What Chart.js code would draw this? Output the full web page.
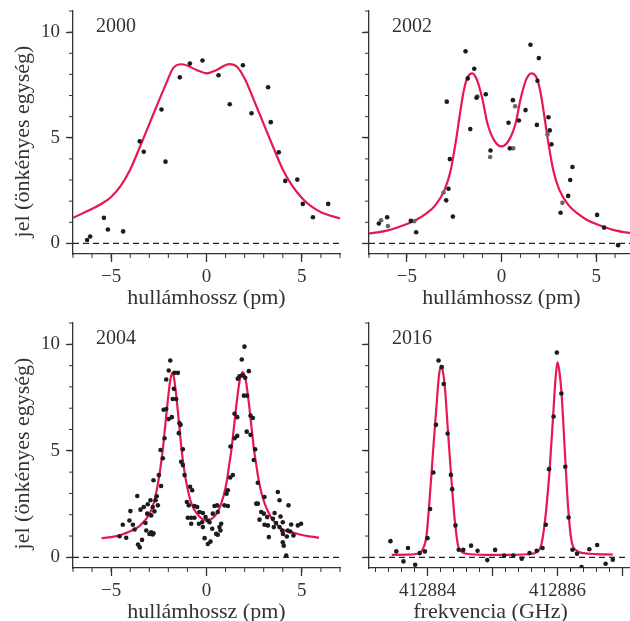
<!DOCTYPE html>
<html>
<head>
<meta charset="utf-8">
<script src="https://cdn.jsdelivr.net/npm/chart.js@4.4.1/dist/chart.umd.min.js"></script>
<style>
  html, body { margin: 0; padding: 0; width: 630px; height: 621px; overflow: hidden; background: #fff; }
  body { position: relative; }
  canvas { position: absolute; }
</style>
</head>
<body>
<canvas id="c2000"></canvas>
<canvas id="c2002"></canvas>
<canvas id="c2004"></canvas>
<canvas id="c2016"></canvas>
<script>
// ---- data ----
const x2000 = [-6.26, -6.10, -5.38, -5.17, -4.37, -3.50, -3.29, -2.36, -2.15, -1.40, -0.87, -0.21, 0.63, 1.22, 1.91, 2.36, 3.23, 3.37, 3.79, 4.13, 4.76, 5.05, 5.58, 6.38];
const y2000 = [0.16, 0.33, 1.21, 0.66, 0.57, 4.83, 4.34, 6.34, 3.87, 7.86, 8.51, 8.66, 7.96, 6.59, 8.43, 6.16, 7.39, 5.74, 4.31, 2.96, 3.02, 1.87, 1.24, 1.87];
const fitX2000 = [-7, -6, -5.5, -5, -4.5, -4, -3.5, -3, -2.5, -2.1, -1.75, -1.3, -0.5, 0, 0.5, 1.2, 1.6, 2, 2.5, 3, 3.5, 4, 4.5, 5, 5.5, 6, 7];
const fitY2000 = [1.21, 1.64, 1.88, 2.2, 2.72, 3.5, 4.55, 5.65, 6.75, 7.6, 8.3, 8.48, 8.2, 8.05, 8.2, 8.49, 8.36, 7.8, 6.75, 5.65, 4.55, 3.5, 2.72, 2.15, 1.75, 1.48, 1.18];

const x2002 = [-6.48, -6.04, -4.79, -4.51, -2.89, -2.80, -2.92, -2.73, -2.57, -1.90, -1.78, -1.65, -1.44, -1.32, -0.83, -0.58, 0.37, 0.44, 0.60, 0.92, 1.27, 1.53, 1.87, 1.90, 1.97, 2.48, 2.55, 2.64, 3.12, 3.52, 3.63, 3.75, 5.05, 5.42, 6.16];
const y2002 = [0.94, 1.24, 1.07, 0.53, 6.71, 2.59, 2.04, 3.99, 1.27, 9.09, 7.81, 5.41, 8.27, 6.90, 7.06, 4.40, 5.71, 4.50, 6.78, 5.82, 6.31, 9.40, 5.61, 7.70, 8.77, 5.97, 5.35, 4.69, 1.45, 2.25, 3.00, 3.62, 1.35, 0.75, -0.08];
// lighter (grey) dots in the 2002 panel
const x2002b = [-6.36, -6.00, -4.61, -3.06, -1.27, -0.60, 0.62, 0.72, 2.43, 3.22];
const y2002b = [1.10, 0.82, 1.05, 2.41, 6.95, 4.09, 4.50, 6.49, 5.16, 1.92];
const fitX2002 = [-7, -6, -5, -4.5, -4, -3.5, -3, -2.7, -2.4, -2.2, -2.0, -1.8, -1.55, -1.3, -1.0, -0.75, -0.4, 0, 0.4, 0.75, 1.0, 1.3, 1.58, 1.85, 2.05, 2.25, 2.45, 2.75, 3.05, 3.55, 4.05, 4.5, 5, 6, 7];
const fitY2002 = [0.46, 0.62, 0.92, 1.12, 1.4, 1.8, 2.55, 3.4, 4.9, 6.1, 7.2, 7.85, 8.05, 7.75, 6.8, 5.7, 4.9, 4.59, 4.9, 5.7, 6.8, 7.75, 8.05, 7.85, 7.2, 6.1, 4.9, 3.4, 2.55, 1.8, 1.4, 1.12, 0.92, 0.62, 0.46];

const x2004 = [
  -4.56, -4.21, -4.39, -4.04, -3.86, -3.77, -3.63, -3.59, -3.50, -3.38, -3.99, -3.46, -3.29, -3.08, -2.94, -3.20, -3.16, -2.99, -2.82, -3.11, -2.90, -2.78, -2.82,
  -1.90, -1.98, -1.68, -1.50, -2.11, -1.71, -1.77, -1.59, -2.25, -2.11, -1.98, -1.82, -1.42, -1.36, -1.45, -2.20, -2.41, -2.29, -1.24, -1.33, -1.24, -1.15, -2.50, -2.38, -2.61, -2.67, -2.55, -2.73, -2.90, -2.78,
  -0.86, -0.75, -1.03, -0.93, -0.63, -0.49, -0.37, -0.19, 0.42, -0.98, -0.80, -0.63, -0.80, -0.40, -0.23, -0.05, 0.07, -0.19, 0.16, 0.33, 0.30, 0.51, -0.10, 0.07, 0.21,
  1.99, 1.85, 2.22, 1.64, 1.73, 1.90, 2.03, 1.96, 2.13, 1.47, 1.61, 2.31, 2.43, 1.61, 1.47, 2.11, 2.31, 1.26, 2.55, 2.48, 1.38, 1.24, 1.12, 1.05, 2.69, 0.94, 1.12, 0.56, 0.59, 0.77, 0.68, 0.73, 0.59,
  2.61, 2.69, 3.04, 3.74, 2.87, 3.01, 3.18, 3.57, 3.83, 3.48, 2.78, 3.04, 3.22, 3.27, 3.65, 3.53, 3.83, 4.00, 4.00, 4.05,
  4.30, 3.88, 4.44, 4.79, 4.96, 4.26, 4.39, 4.21, 4.56, 3.97, 4.01, 4.18
];
const y2004 = [
  0.99, 0.92, 1.53, 1.73, 1.53, 1.31, 2.88, 0.60, 0.47, 0.82, 2.17, 2.24, 2.36, 2.49, 2.68, 1.61, 1.26, 1.10, 1.07, 2.05, 1.97, 3.62, 2.36,
  9.24, 8.77, 8.66, 8.66, 8.35, 7.91, 7.43, 7.43, 6.93, 6.96, 6.49, 6.58, 6.30, 6.22, 5.83, 5.59, 5.04, 4.65, 5.07, 4.49, 4.33, 3.86, 3.86, 3.35, 2.87, 2.68, 2.44, 2.16, 1.18, 1.13,
  3.31, 3.15, 2.60, 2.44, 2.41, 2.36, 2.13, 2.08, 2.41, 1.86, 1.86, 1.86, 1.58, 1.58, 1.65, 1.89, 1.73, 1.42, 1.65, 2.05, 1.34, 1.10, 0.90, 0.63, 0.74,
  9.89, 9.29, 8.74, 8.38, 8.50, 8.54, 8.43, 7.59, 7.59, 6.74, 6.58, 6.65, 6.54, 5.70, 5.59, 5.90, 5.75, 5.20, 5.07, 4.57, 3.86, 3.75, 3.15, 2.99, 3.50, 2.44, 2.41, 2.44, 2.13, 1.58, 1.42, 1.26, 1.06,
  2.52, 2.52, 2.83, 3.07, 2.13, 2.05, 1.89, 2.08, 2.68, 1.81, 1.77, 1.53, 1.50, 0.95, 1.61, 1.42, 1.42, 1.65, 0.71, 0.55,
  2.44, 1.92, 1.54, 1.50, 1.58, 1.26, 1.21, 0.98, 1.03, 1.26, 1.10, 0.08
];
const fitX2004 = [-5.5, -5.0, -4.5, -4.0, -3.5, -3.0, -2.75, -2.5, -2.3, -2.15, -2.0, -1.9, -1.8, -1.7, -1.6, -1.45, -1.3, -1.15, -1.0, -0.8, -0.5, -0.25, 0, 0.25, 0.45, 0.7, 0.9, 1.05, 1.2, 1.3, 1.45, 1.6, 1.75, 1.9, 2.05, 2.2, 2.35, 2.5, 2.6, 2.75, 2.95, 3.2, 3.5, 3.8, 4.0, 4.5, 5.0, 5.5, 5.9];
const fitY2004 = [0.90, 0.95, 1.05, 1.22, 1.48, 2.02, 2.6, 3.7, 5.0, 6.3, 7.6, 8.3, 8.66, 8.4, 7.7, 6.4, 5.0, 4.0, 3.25, 2.55, 2.05, 1.82, 1.73, 1.8, 1.95, 2.35, 2.9, 3.5, 4.4, 5.0, 6.2, 7.4, 8.35, 8.69, 8.35, 7.4, 6.2, 5.0, 4.4, 3.55, 2.8, 2.2, 1.72, 1.45, 1.3, 1.17, 1.05, 0.97, 0.92];

const x2016 = [412883.43, 412883.52, 412883.63, 412883.70, 412883.81, 412883.88, 412883.96, 412884.00, 412884.04, 412884.09, 412884.13, 412884.17, 412884.22, 412884.25, 412884.31, 412884.36, 412884.38, 412884.43, 412884.48, 412884.55, 412884.67, 412884.77, 412884.92, 412885.04, 412885.18, 412885.32, 412885.45, 412885.57, 412885.68, 412885.77, 412885.82, 412885.87, 412885.94, 412885.99, 412886.06, 412886.12, 412886.17, 412886.23, 412886.30, 412886.37, 412886.49, 412886.61, 412886.74, 412886.85];
const y2016 = [0.76, 0.28, -0.19, 0.44, -0.35, 0.20, 0.28, 0.90, 2.27, 3.98, 6.22, 9.24, 8.93, 8.14, 5.81, 3.87, 3.20, 1.50, 0.36, 0.35, 0.55, 0.31, -0.13, 0.35, 0.08, 0.09, -0.06, 0.20, 0.31, 0.44, 1.53, 4.14, 6.61, 9.61, 7.69, 4.25, 1.87, 0.36, 0.17, -0.46, 0.38, 0.58, -0.30, -0.11];
const fitX2016 = [412883.45, 412883.7, 412883.85, 412883.93, 412883.985, 412884.035, 412884.087, 412884.138, 412884.175, 412884.205, 412884.235, 412884.266, 412884.317, 412884.369, 412884.42, 412884.47, 412884.52, 412884.6, 412884.9, 412885.3, 412885.6, 412885.68, 412885.754, 412885.82, 412885.882, 412885.932, 412885.97, 412886.0, 412886.03, 412886.062, 412886.112, 412886.163, 412886.215, 412886.29, 412886.4, 412886.6, 412886.85];
const fitY2016 = [0.12, 0.13, 0.17, 0.40, 1.03, 2.83, 5.04, 7.09, 8.5, 9.0, 8.75, 8.03, 5.83, 3.62, 1.73, 0.55, 0.27, 0.17, 0.12, 0.12, 0.17, 0.24, 0.63, 2.05, 4.25, 6.61, 8.4, 9.16, 8.7, 7.72, 5.04, 2.36, 0.79, 0.32, 0.2, 0.15, 0.13];

// tick positions
const yTicks = [0, 5, 10];
const wlTicks = [-5, 0, 5];
const freqTicks = [412884, 412885, 412886, 412887];
const freqLabels = ['412884', '', '412886', ''];
const yTitle = 'jel (önkényes egység)';

// ---- styling ----
const INK = '#333';
const DOT = '#1c1c1c';
const FIT = '#e8184e';
const SERIF = "'Liberation Serif', 'Times New Roman', serif";

function pts(xs, ys) {
    return xs.map((x, i) => ({ x: x, y: ys[i] }));
}

function minus(v) {
    return v < 0 ? '\u2212' + Math.abs(v) : String(v);
}

// short minor tick marks along both axes
const minorTicks = {
    id: 'minorTicks',
    afterDraw(chart, args, o) {
        const ctx = chart.ctx;
        const sx = chart.scales.x;
        const sy = chart.scales.y;
        ctx.save();
        ctx.strokeStyle = INK;
        ctx.lineWidth = 1;
        ctx.beginPath();
        for (let i = 0; ; i++) {
            const v = o.x0 + i * o.xStep;
            if (v > sx.max + 1e-6) break;
            const px = sx.getPixelForValue(v);
            ctx.moveTo(px, sx.top);
            ctx.lineTo(px, sx.top + o.len);
        }
        for (let v = 0; v <= sy.max; v++) {
            const py = sy.getPixelForValue(v);
            ctx.moveTo(sy.right, py);
            ctx.lineTo(sy.right - o.len, py);
        }
        ctx.stroke();
        ctx.restore();
    },
};

// year label and axis titles
const panelText = {
    id: 'panelText',
    afterDraw(chart, args, o) {
        const ctx = chart.ctx;
        const area = chart.chartArea;
        ctx.save();
        ctx.fillStyle = INK;
        ctx.textBaseline = 'middle';
        ctx.textAlign = 'left';
        ctx.font = '20px ' + SERIF;
        ctx.fillText(o.year, area.left + 23, area.top + 15.5);
        ctx.textAlign = 'center';
        ctx.font = '22px ' + SERIF;
        ctx.fillText(o.xTitle, o.xTitleX, o.xTitleY);
        if (o.yTitle) {
            ctx.translate(o.yTitleX, o.yTitleY);
            ctx.rotate(-Math.PI / 2);
            ctx.fillText(o.yTitle, 0, 0);
        }
        ctx.restore();
    },
};

function drawPanel(id, p) {
    const cv = document.getElementById(id);
    cv.width = p.w;
    cv.height = p.h;
    cv.style.left = p.left + 'px';
    cv.style.top = p.top + 'px';

    const datasets = [
        { data: pts(p.xs, p.ys), pointRadius: 2.3, backgroundColor: DOT, borderWidth: 0, order: 0 },
    ];
    if (p.xs2) {
        datasets.push({ data: pts(p.xs2, p.ys2), pointRadius: 2.3, backgroundColor: '#676767', borderWidth: 0, order: 1 });
    }
    datasets.push({
        type: 'line',
        data: pts(p.fitX, p.fitY),
        borderColor: FIT,
        borderWidth: 2.2,
        pointRadius: 0,
        cubicInterpolationMode: 'monotone',
        order: 2,
    });
    datasets.push({
        type: 'line',
        data: [{ x: p.xMin, y: 0 }, { x: p.xMax, y: 0 }],
        borderColor: '#222',
        borderWidth: 1.3,
        borderDash: [6, 4],
        pointRadius: 0,
        order: 3,
    });

    return new Chart(cv, {
        type: 'scatter',
        data: { datasets: datasets },
        plugins: [minorTicks, panelText],
        options: {
            responsive: false,
            animation: false,
            devicePixelRatio: 1,
            layout: { padding: { top: p.padTop, right: p.padRight, left: 0, bottom: 0 } },
            plugins: {
                legend: { display: false },
                tooltip: { enabled: false },
                minorTicks: { x0: p.minorX0, xStep: p.minorStep, len: 4 },
                panelText: {
                    year: p.year,
                    xTitle: p.xTitle, xTitleX: p.xTitleX, xTitleY: p.xTitleY,
                    yTitle: p.showY ? yTitle : '', yTitleX: 23, yTitleY: 141.5,
                },
            },
            scales: {
                x: {
                    type: 'linear',
                    min: p.xMin,
                    max: p.xMax,
                    border: { color: INK, width: 1.3 },
                    grid: { drawOnChartArea: false, tickLength: 8, color: INK, tickWidth: 1.3 },
                    afterBuildTicks: (s) => { s.ticks = p.xTicks.map((v) => ({ value: v })); },
                    ticks: {
                        autoSkip: false,
                        maxRotation: 0,
                        color: INK,
                        padding: 4,
                        font: { family: SERIF, size: 19 },
                        callback: (v, i) => p.xLabels[i],
                    },
                    afterFit: (s) => {
                        s.height = p.xH;
                        s.paddingLeft = 0;
                        s.paddingRight = 0;
                    },
                },
                y: {
                    type: 'linear',
                    min: -0.5,
                    max: 11,
                    border: { color: INK, width: 1.3 },
                    grid: { drawOnChartArea: false, tickLength: 7, color: INK, tickWidth: 1.3 },
                    afterBuildTicks: (s) => { s.ticks = yTicks.map((v) => ({ value: v })); },
                    ticks: {
                        display: p.showY,
                        color: INK,
                        padding: 6,
                        font: { family: SERIF, size: 19 },
                    },
                    afterFit: (s) => {
                        s.width = p.yW;
                        s.paddingTop = 0;
                        s.paddingBottom = 0;
                    },
                },
            },
        },
    });
}

const wlLabels = wlTicks.map(minus);

drawPanel('c2000', {
    left: 0, top: 0, w: 345, h: 320, yW: 73, xH: 66, padTop: 11, padRight: 5,
    xs: x2000, ys: y2000, fitX: fitX2000, fitY: fitY2000,
    xMin: -7, xMax: 7, xTicks: wlTicks, xLabels: wlLabels, minorX0: -7, minorStep: 1,
    year: '2000', xTitle: 'hullámhossz (pm)', xTitleX: 206.5, xTitleY: 298.3, showY: true,
});
drawPanel('c2002', {
    left: 339, top: 0, w: 300, h: 320, yW: 30, xH: 66, padTop: 11, padRight: 5,
    xs: x2002, ys: y2002, xs2: x2002b, ys2: y2002b, fitX: fitX2002, fitY: fitY2002,
    xMin: -7, xMax: 7, xTicks: wlTicks, xLabels: wlLabels, minorX0: -7, minorStep: 1,
    year: '2002', xTitle: 'hullámhossz (pm)', xTitleX: 162.5, xTitleY: 298.3, showY: false,
});
drawPanel('c2004', {
    left: 0, top: 312, w: 345, h: 330, yW: 73, xH: 74, padTop: 11, padRight: 5,
    xs: x2004, ys: y2004, fitX: fitX2004, fitY: fitY2004,
    xMin: -7, xMax: 7, xTicks: wlTicks, xLabels: wlLabels, minorX0: -7, minorStep: 1,
    year: '2004', xTitle: 'hullámhossz (pm)', xTitleX: 206.5, xTitleY: 300, showY: true,
});
drawPanel('c2016', {
    left: 339, top: 312, w: 300, h: 330, yW: 30, xH: 74, padTop: 11, padRight: 10,
    xs: x2016, ys: y2016, fitX: fitX2016, fitY: fitY2016,
    xMin: 412883.1, xMax: 412887.1, xTicks: freqTicks, xLabels: freqLabels, minorX0: 412883.2, minorStep: 0.2,
    year: '2016', xTitle: 'frekvencia (GHz)', xTitleX: 151.5, xTitleY: 300, showY: false,
});
</script>
</body>
</html>
